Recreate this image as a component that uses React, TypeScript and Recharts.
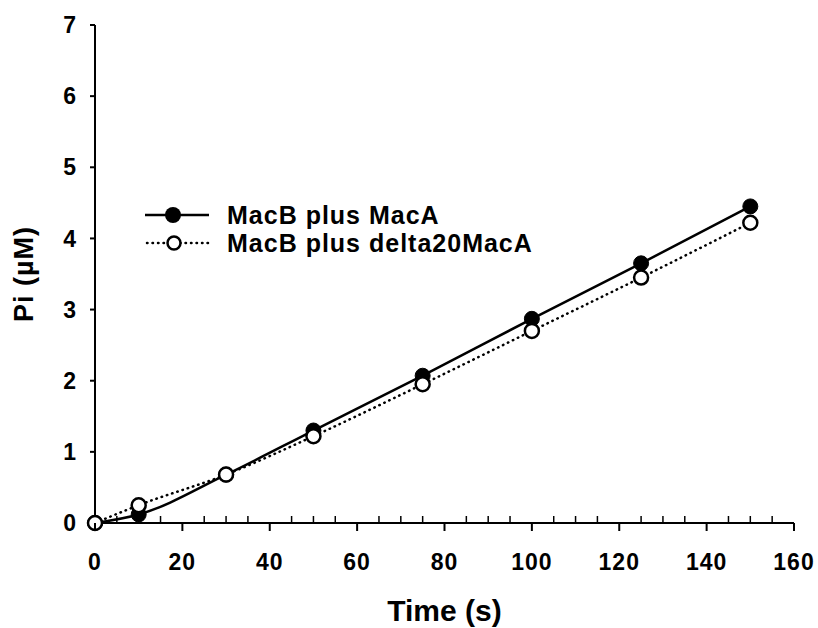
import React from 'react';
import { LineChart, Line, XAxis, YAxis } from 'recharts';

// time points (s)
const times = [0, 10, 30, 50, 75, 100, 125, 150];
// Pi released (µM)
const macA = [0, 0.12, 0.68, 1.3, 2.07, 2.87, 3.65, 4.45];
const delta20MacA = [0, 0.25, 0.68, 1.22, 1.95, 2.7, 3.45, 4.22];

const xTicks = [0, 5, 10, 15, 20, 25, 30, 35, 40, 45, 50, 55, 60, 65, 70, 75, 80, 85, 90, 95, 100, 105, 110, 115, 120, 125, 130, 135, 140, 145, 150, 155, 160];
const yTicks = [0, 1, 2, 3, 4, 5, 6, 7];

const FONT = '"Liberation Sans", Arial, sans-serif';

const data = times.map((t, i) => ({ t, macA: macA[i], delta: delta20MacA[i] }));

const XTick = (props: any) => {
  const { x, y, payload } = props;
  const v = payload.value;
  const major = v % 20 === 0;
  return (
    <g>
      {major ? (
        <line x1={x} y1={y} x2={x} y2={y + 8} stroke="#000" strokeWidth={2} />
      ) : (
        <line x1={x} y1={y} x2={x} y2={y - 7} stroke="#000" strokeWidth={1.5} />
      )}
      {major && (
        <text x={x} y={y + 47} textAnchor="middle" fontFamily={FONT} fontWeight="bold" fontSize={23} letterSpacing={1} fill="#000">
          {v}
        </text>
      )}
    </g>
  );
};

const LegendBox = () => (
  <div
    style={{
      position: 'absolute',
      left: 143,
      top: 201,
      fontFamily: FONT,
      fontWeight: 'bold',
      fontSize: 25,
      letterSpacing: 1,
      color: '#000',
      lineHeight: '28px',
      whiteSpace: 'nowrap',
    }}
  >
    <div style={{ display: 'flex', alignItems: 'center' }}>
      <svg width={68} height={20}>
        <line x1={2} y1={10} x2={66} y2={10} stroke="#000" strokeWidth={2.5} />
        <circle cx={30} cy={10} r={8} fill="#000" />
      </svg>
      <span style={{ marginLeft: 16 }}>MacB plus MacA</span>
    </div>
    <div style={{ display: 'flex', alignItems: 'center' }}>
      <svg width={68} height={20}>
        <line x1={4} y1={10} x2={66} y2={10} stroke="#000" strokeWidth={2.5} strokeDasharray="0.5 5" strokeLinecap="round" />
        <circle cx={31} cy={10} r={6.5} fill="#fff" stroke="#000" strokeWidth={2.5} />
      </svg>
      <span style={{ marginLeft: 16 }}>MacB plus delta20MacA</span>
    </div>
  </div>
);

export default function App() {
  return (
    <div style={{ position: 'absolute', left: 0, top: 0, width: 818, height: 628, background: '#fff' }}>
      <LineChart width={818} height={628} data={data} margin={{ top: 25, right: 24, left: 0, bottom: 5 }}>
        <XAxis
          dataKey="t"
          type="number"
          domain={[0, 160]}
          ticks={xTicks}
          interval={0}
          tick={<XTick />}
          tickLine={false}
          tickSize={0}
          tickMargin={0}
          axisLine={{ stroke: '#000', strokeWidth: 2 }}
          height={100}
          label={{ value: 'Time (s)', position: 'insideBottom', offset: 2, fontFamily: FONT, fontWeight: 'bold', fontSize: 30, fill: '#000' }}
        />
        <YAxis
          type="number"
          domain={[0, 7]}
          ticks={yTicks}
          interval={0}
          width={95}
          tickSize={5}
          tickMargin={14}
          tickLine={{ stroke: '#000', strokeWidth: 2 }}
          axisLine={{ stroke: '#000', strokeWidth: 2 }}
          tick={{ fontFamily: FONT, fontWeight: 'bold', fontSize: 23, fill: '#000' }}
          label={{ value: 'Pi (µM)', angle: -90, position: 'insideLeft', offset: 23, fontFamily: FONT, fontWeight: 'bold', fontSize: 27, letterSpacing: 1, fill: '#000', style: { textAnchor: 'middle' } }}
        />
        <Line
          dataKey="macA"
          type="monotone"
          stroke="#000"
          strokeWidth={2.5}
          dot={{ r: 7.5, fill: '#000', stroke: '#000', strokeWidth: 1 }}
          activeDot={false}
          isAnimationActive={false}
        />
        <Line
          dataKey="delta"
          type="monotone"
          stroke="#000"
          strokeWidth={2.5}
          strokeDasharray="0.5 5"
          strokeLinecap="round"
          dot={{ r: 7, fill: '#fff', stroke: '#000', strokeWidth: 2.5, strokeDasharray: '' }}
          activeDot={false}
          isAnimationActive={false}
        />
      </LineChart>
      <LegendBox />
    </div>
  );
}
